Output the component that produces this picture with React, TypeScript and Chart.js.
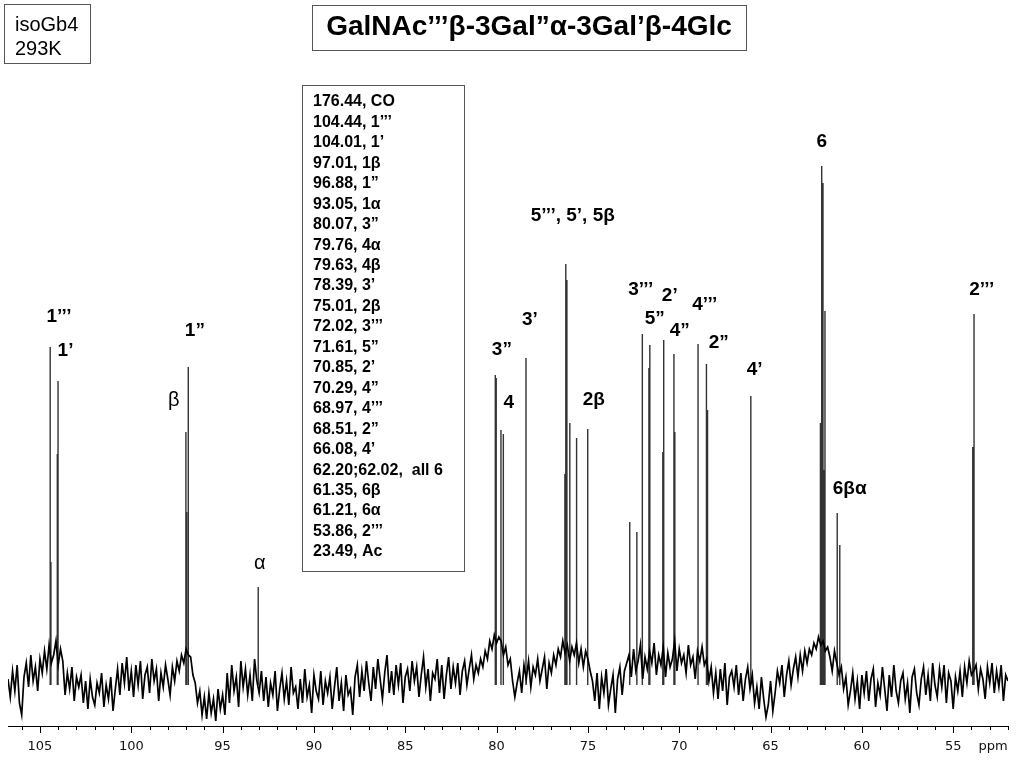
import { useEffect, useRef } from 'react';
import { Chart, registerables } from 'chart.js';

Chart.register(...registerables);

// ---- spectrum baseline (noise), sampled every 0.125 ppm from 106.75 ppm down to 52.00 ppm
const NOISE_START_PPM = 106.75;
const NOISE_STEP_PPM = 0.125;
const NOISE = [
  6, -12, 14, -6, 20, -18, -30, 8,
  22, -2, 30, 4, 18, -6, 26, 12,
  34, 16, 40, 22, 30, 44, 20, 36,
  24, -10, 12, -4, 18, -16, 8, -2,
  10, -18, 4, -24, 6, -12, -20, 2,
  -8, 12, -22, 0, -14, 8, -26, -4,
  16, -10, 22, 2, 28, -6, 14, -12,
  20, 0, 24, -14, 10, 18, -8, 26,
  4, 16, -16, 12, -2, 20, 6, -10,
  18, 4, 24, 14, 30, 22, 36, 30,
  28, 10, 2, -18, -6, -30, -12, -34,
  -8, -28, -14, -36, -4, -24, -10, -30,
  12, -18, 20, -6, 8, -22, 24, -2,
  16, -10, 10, -16, 26, 4, -8, 14,
  -16, 8, -22, 2, -10, 14, -26, -4,
  12, -14, 4, -20, 18, -8, -2, -24,
  6, -18, 16, -12, 0, -28, 10, -6,
  -14, 14, -20, 4, -8, 8, -24, -2,
  18, -16, 2, -26, 10, -10, -4, -30,
  8, 20, -12, 14, -6, 24, 2, -16,
  18, -4, 26, 6, -14, 12, 30, -8,
  14, -10, 20, 0, 22, -18, 8, 16,
  -6, 24, 4, 18, -12, 10, 28, -2,
  16, -16, 12, 6, 26, -8, 20, -14,
  10, 28, -4, 18, 2, 22, -10, 14,
  24, 0, 16, 30, 6, 20, 12, 26,
  18, 34, 26, 44, 36, 50, 42, 48,
  44, 30, 38, 20, 26, 4, -12, 2,
  14, -8, 20, 6, 24, -2, 18, 10,
  26, 4, 16, 28, -4, 22, 12, 30,
  20, 36, 28, 44, 32, 40, 24, 38,
  30, 42, 22, 36, 18, 34, 26, 14,
  4, -16, 12, -24, 8, -8, 16, -20,
  -4, 10, -28, 6, 18, -10, 14, 22,
  30, 8, 36, 14, 24, 40, 6, 28,
  16, 34, 22, 42, 10, 30, 20, 38,
  8, 32, 18, 26, 44, 14, 36, 22,
  30, 12, 40, 20, 28, 6, 34, 24,
  38, 20, 26, 4, 18, -8, 12, -14,
  16, -6, 22, -20, 8, 14, -2, 20,
  -10, 12, -16, 6, 18, -4, 10, -18,
  -2, -24, 8, -14, -32, -20, 4, -26,
  -8, 14, 2, 20, -12, 10, 24, 0,
  16, 28, 8, 30, 14, 34, 22, 36,
  30, 42, 36, 48, 40, 44, 34, 38,
  28, 14, 34, 22, 10, 18, -4, 8,
  -20, -6, 12, -14, 4, -24, 10, -8,
  14, -16, 6, 16, -22, 2, -10, 18,
  -4, -26, 10, -12, 20, -6, -18, 4,
  12, -14, 2, -28, 8, 16, -8, -20,
  6, 18, -10, 10, -16, 22, 0, -12,
  16, -2, 20, -18, 12, 4, -24, 8,
  -6, 14, -12, 18, 2, 24, 10, 14,
  20, -4, 16, 6, -14, 18, 2, 22,
  -8, 14, -2, 20, -16, 10, 4,
];

// ---- resonance lines (ppm, intensity)
const PEAK_PPM = [
  104.44, 104.40, 104.01, 104.05, 97.01, 96.97, 96.88, 93.05,
  80.07, 80.02, 79.76, 79.63, 78.39, 76.21, 76.15, 76.26, 75.99, 75.62, 75.01,
  72.71, 72.32, 72.02, 71.61, 71.66, 70.85, 70.90, 70.29, 70.24, 68.97, 68.51, 68.45,
  66.08, 62.20, 62.13, 62.27, 62.02, 62.06, 61.35, 61.21, 53.86, 53.93,
];
const PEAK_HEIGHT = [
  338, 123, 304, 231, 253, 173, 318, 98,
  310, 307, 255, 251, 327, 421, 405, 211, 262, 247, 256,
  163, 153, 351, 340, 317, 345, 233, 331, 253, 341, 321, 275,
  289, 519, 502, 262, 374, 215, 172, 140, 371, 238,
];

// ---- peak annotations
const LABEL_TEXT = ['1’’’', '1’', '1”', 'β', 'α', '3”', '4', '3’', '5’’’, 5’, 5β', '2β', '3’’’', '2’', '5”', '4”', '4’’’', '2”', '4’', '6', '6βα', '2’’’'];
const LABEL_PPM = [103.96, 103.60, 96.52, 97.67, 92.96, 79.71, 79.33, 78.18, 75.83, 74.68, 72.11, 70.52, 71.34, 69.97, 68.60, 67.84, 65.87, 62.20, 60.67, 53.44];
const LABEL_LEVEL = [368, 334, 354, 285, 122, 335, 282, 365, 469, 285, 395, 389, 366, 354, 380, 342, 315, 543, 196, 395];
const LABEL_BOLD = [true, true, true, false, false, true, true, true, true, true, true, true, true, true, true, true, true, true, true, true];

// ---- assignment table
const ASSIGN_SHIFT = ['176.44', '104.44', '104.01', '97.01', '96.88', '93.05', '80.07', '79.76', '79.63', '78.39', '75.01', '72.02', '71.61', '70.85', '70.29', '68.97', '68.51', '66.08', '62.20;62.02', '61.35', '61.21', '53.86', '23.49'];
const ASSIGN_NAME = ['CO', '1’’’', '1’', '1β', '1”', '1α', '3”', '4α', '4β', '3’', '2β', '3’’’', '5”', '2’', '4”', '4’’’', '2”', '4’', ' all 6', '6β', '6α', '2’’’', 'Ac'];

const TITLE = 'GalNAc’’’β-3Gal”α-3Gal’β-4Glc';
const SAMPLE = ['isoGb4', '293K'];
const X_MIN = 52.0;
const X_MAX = 106.75;

const FONT = '"Liberation Sans", Arial, sans-serif';

const annotPlugin = {
  id: 'annot',
  afterDraw(chart: any) {
    const ctx = chart.ctx as CanvasRenderingContext2D;
    const xs = chart.scales.x;
    const ys = chart.scales.y;
    const area = chart.chartArea;
    ctx.save();

    // axis line and ticks
    ctx.strokeStyle = '#000';
    ctx.lineWidth = 1;
    ctx.beginPath();
    ctx.moveTo(area.left, Math.round(area.bottom) + 0.5);
    ctx.lineTo(area.right, Math.round(area.bottom) + 0.5);
    ctx.stroke();
    for (let v = Math.ceil(X_MIN); v <= Math.floor(X_MAX); v++) {
      const px = Math.round(xs.getPixelForValue(v)) + 0.5;
      const len = v % 5 === 0 ? 7 : 4;
      ctx.beginPath();
      ctx.moveTo(px, area.bottom);
      ctx.lineTo(px, area.bottom + len);
      ctx.stroke();
    }
    ctx.fillStyle = '#111';
    ctx.font = '13px "DejaVu Sans", sans-serif';
    ctx.textAlign = 'center';
    ctx.textBaseline = 'middle';
    ctx.fillText('ppm', 993, 747);

    // peak labels
    ctx.fillStyle = '#000';
    for (let i = 0; i < LABEL_TEXT.length; i++) {
      ctx.font = LABEL_BOLD[i] ? `bold 19px ${FONT}` : `20px ${FONT}`;
      ctx.fillText(LABEL_TEXT[i], xs.getPixelForValue(LABEL_PPM[i]), ys.getPixelForValue(LABEL_LEVEL[i]));
    }

    // boxes
    ctx.strokeStyle = '#555';
    ctx.lineWidth = 1;
    ctx.strokeRect(4.5, 4.5, 86, 59);
    ctx.strokeRect(312.5, 5.5, 434, 45);
    ctx.strokeRect(302.5, 85.5, 162, 486);

    ctx.textAlign = 'left';
    ctx.font = `20px ${FONT}`;
    ctx.fillText(SAMPLE[0], 15, 25);
    ctx.fillText(SAMPLE[1], 15, 49.5);

    ctx.textAlign = 'center';
    ctx.font = `bold 28px ${FONT}`;
    ctx.fillText(TITLE, 529, 27);

    ctx.textAlign = 'left';
    ctx.font = `bold 16px ${FONT}`;
    for (let i = 0; i < ASSIGN_SHIFT.length; i++) {
      ctx.fillText(`${ASSIGN_SHIFT[i]}, ${ASSIGN_NAME[i]}`, 313, 102 + i * 20.45);
    }
    ctx.restore();
  },
};

export default function App() {
  const ref = useRef<HTMLCanvasElement>(null);
  useEffect(() => {
    if (!ref.current) return;
    const noiseData = NOISE.map((v, i) => ({ x: NOISE_START_PPM - i * NOISE_STEP_PPM, y: v }));
    const peakData: { x: number; y: number | null }[] = [];
    PEAK_PPM.forEach((p, i) => {
      peakData.push({ x: p, y: 0 });
      peakData.push({ x: p, y: PEAK_HEIGHT[i] });
      peakData.push({ x: p, y: null });
    });
    const chart = new Chart(ref.current, {
      type: 'line',
      data: {
        datasets: [
          {
            data: noiseData,
            borderColor: '#000',
            borderWidth: 1.7,
            pointRadius: 0,
            tension: 0,
          },
          {
            data: peakData as any,
            borderColor: '#333',
            borderWidth: 1.4,
            pointRadius: 0,
            spanGaps: false,
          },
        ],
      },
      options: {
        animation: false,
        responsive: false,
        devicePixelRatio: 1,
        events: [],
        layout: { padding: { left: 8, right: 16, top: 100, bottom: 0 } },
        plugins: { legend: { display: false }, tooltip: { enabled: false } },
        scales: {
          x: {
            type: 'linear',
            reverse: true,
            min: X_MIN,
            max: X_MAX,
            offset: false,
            grid: { display: false, drawTicks: false },
            border: { display: false },
            afterFit: (scale: any) => {
              scale.height = 42;
            },
            ticks: {
              stepSize: 1,
              includeBounds: false,
              autoSkip: false,
              maxRotation: 0,
              padding: 13,
              color: '#111',
              font: { family: '"DejaVu Sans", sans-serif', size: 13 },
              callback: (v: any) => (Number(v) % 5 === 0 ? String(v) : ''),
            },
          },
          y: {
            type: 'linear',
            display: false,
            min: -41,
            max: 585,
          },
        },
      },
      plugins: [annotPlugin],
    });
    return () => chart.destroy();
  }, []);
  return (
    <div style={{ position: 'absolute', left: 0, top: 0, width: 1024, height: 768, background: '#fff' }}>
      <canvas ref={ref} width={1024} height={768} />
    </div>
  );
}
